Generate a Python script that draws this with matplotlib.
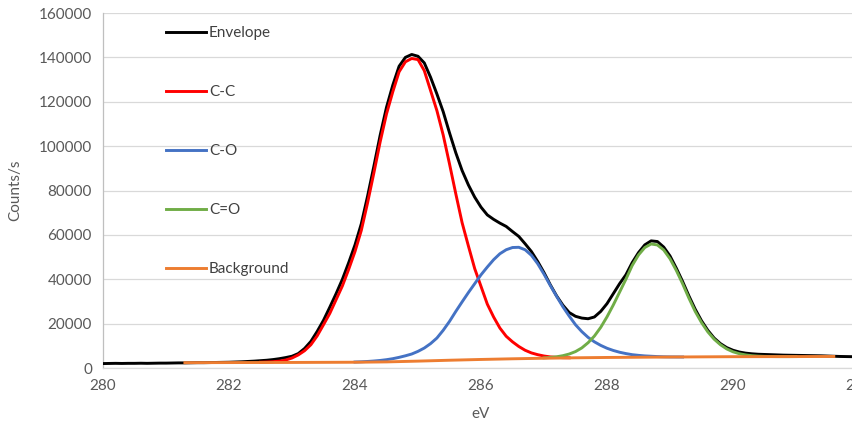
import matplotlib
matplotlib.use("Agg")
import matplotlib.pyplot as plt
import numpy as np
from matplotlib.ticker import FuncFormatter

plt.rcParams["font.family"] = ["Lato", "DejaVu Sans"]

# binding energy grid step (eV)
STEP = 0.1

# Envelope, 280.0 .. 292.0 eV
env_start = 280.0
envelope = [
    2000, 2050, 2100, 2050, 2100, 2100, 2150, 2100, 2150, 2200,
    2200, 2250, 2300, 2300, 2350, 2400, 2400, 2450, 2500, 2550,
    2600, 2700, 2800, 2950, 3100, 3300, 3500, 3800, 4200, 4700,
    5300, 6500, 8800, 12000, 16500, 21500, 27400, 33500, 40000, 47500,
    55500, 65000, 77500, 91000, 105000, 117500, 127500, 136000, 140000, 141300,
    140500, 137500, 131000, 123500, 115500, 106000, 97000, 89000, 82500, 77000,
    72500, 69000, 67000, 65300, 63800, 61500, 59300, 56000, 52500, 48000,
    43000, 37500, 32500, 28300, 25000, 23300, 22500, 22200, 23000, 25500,
    29000, 33500, 38000, 42000, 47500, 52000, 55500, 57300, 57000, 54500,
    50500, 45000, 39000, 32500, 26500, 21300, 17000, 13500, 11000, 9200,
    8000, 7200, 6700, 6400, 6200, 6100, 6000, 5900, 5800, 5750,
    5700, 5650, 5600, 5550, 5500, 5400, 5300, 5200, 5150, 5100,
    5050,
]

# C-C component, 282.5 .. 287.4 eV
cc_start = 282.5
cc = [
    2600, 2700, 2850, 3100, 3600,
    4500, 5900, 7800, 10500, 14500, 19500, 24600, 30800, 37000, 44500,
    52500, 62000, 74500, 88000, 102000, 114500, 124500, 133500, 138000, 139500,
    139000, 134000, 125000, 116000, 105000, 92000, 78500, 65500, 55000, 44800,
    36800, 28800, 23000, 18000, 14300, 11800, 9700, 8000, 6800, 6000,
    5400, 5000, 4800, 4650, 4600,
]

# C-O component, 284.0 .. 289.2 eV
co_start = 284.0
co = [
    2700, 2800, 2950, 3150, 3400, 3750, 4200, 4800, 5500, 6300,
    7500, 9000, 11000, 13500, 17000, 21000, 25500, 29800, 34000, 38000,
    42000, 45500, 48800, 51500, 53300, 54300, 54400, 53300, 50800, 47000,
    42300, 37200, 32300, 27600, 23400, 19500, 16400, 13800, 11800, 10200,
    8900, 7900, 7100, 6500, 6000, 5700, 5450, 5300, 5150, 5050,
    5000, 4980, 4960,
]

# C=O component, 287.0 .. 291.0 eV
c_eq_o_start = 287.0
c_eq_o = [
    4570, 4760, 5060, 5550, 6300, 7400, 9050, 11400, 14400, 18300,
    23050, 28400, 34200, 40000, 46200, 50950, 54300, 55900, 55450, 53200,
    49250, 44000, 38000, 31500, 25500, 20500, 16300, 13000, 10500, 8600,
    7300, 6450, 5900, 5550, 5350, 5230, 5170, 5140, 5130, 5130,
    5150,
]

# Background
bg_ev = [281.3, 282.0, 283.0, 284.0, 284.5, 285.0, 285.5, 286.0,
         286.5, 287.0, 287.5, 288.0, 289.0, 290.0, 291.0, 291.6]
bg = [2400, 2450, 2500, 2600, 2750, 3100, 3500, 3850,
      4150, 4400, 4600, 4750, 4950, 5100, 5150, 5200]


def grid(start, values):
    return start + STEP * np.arange(len(values))


fig = plt.figure(figsize=(8.52, 4.29), dpi=100)
ax = fig.add_axes((103 / 852, 61 / 429, 756 / 852, 355 / 429))

lw = 2.1
ax.plot(grid(env_start, envelope), envelope, color="#000000", lw=lw, label="Envelope", zorder=3)
ax.plot(grid(cc_start, cc), cc, color="#FF0000", lw=lw, label="C-C", zorder=4)
ax.plot(grid(co_start, co), co, color="#4472C4", lw=lw, label="C-O", zorder=5)
ax.plot(grid(c_eq_o_start, c_eq_o), c_eq_o, color="#70AD47", lw=lw, label="C=O", zorder=6)
ax.plot(bg_ev, bg, color="#ED7D31", lw=lw, label="Background", zorder=7)

ax.set_xlim(280, 292)
ax.set_ylim(0, 160000)
ax.set_xticks(np.arange(280, 293, 2))
ax.set_yticks(np.arange(0, 160001, 20000))
ax.yaxis.set_major_formatter(FuncFormatter(lambda v, p: f"{int(v)}"))
ax.grid(axis="y", color="#D9D9D9", lw=0.9, zorder=0)
ax.set_axisbelow(True)

for s in ("top", "right"):
    ax.spines[s].set_visible(False)
ax.spines["left"].set_color("#BFBFBF")
ax.spines["bottom"].set_color("#D9D9D9")
ax.spines["left"].set_linewidth(0.9)
ax.spines["bottom"].set_linewidth(0.9)
ax.tick_params(length=0, labelsize=11, colors="#595959", pad=8)

ax.set_xlabel("eV", fontsize=11, color="#595959", labelpad=10)
ax.set_ylabel("Counts/s", fontsize=11, color="#595959", labelpad=12)

leg = ax.legend(loc="upper left", bbox_to_anchor=(60 / 756, 0.972), frameon=False,
                fontsize=11, handlelength=2.6, handletextpad=0.2,
                labelspacing=2.95, borderaxespad=0.2, borderpad=0)
for t in leg.get_texts():
    t.set_color("#404040")

fig.savefig("out.png", dpi=100)
